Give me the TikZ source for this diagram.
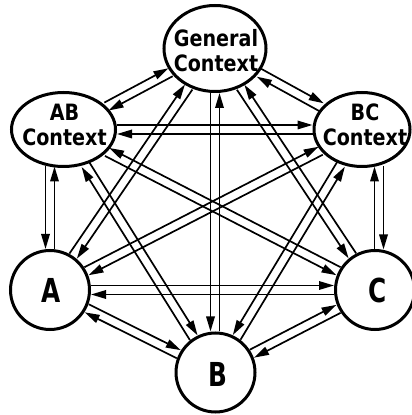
\documentclass[tikz,border=0pt]{standalone}
\usepackage{fontspec}
\usetikzlibrary{arrows.meta,calc,shapes.geometric}
\newfontfamily\ctxfont{DejaVu Sans}[FakeStretch=0.85]
\newfontfamily\letterfont{DejaVu Sans}[FakeStretch=0.75]

% gap between the two arrows of a pair is 2*\gap
\newcommand\gap{4.5pt}
% two opposite arrows between end points #1 and #2, offset by angles #3/#4
\newcommand\twoway[4]{%
  \path (#1) -- (#2) coordinate[pos=0] (p) coordinate[pos=1] (q);
  \draw[link] ($(p)!\gap!#3:(q)$) -- ($(q)!\gap!#4:(p)$);
  \draw[link] ($(q)!\gap!#3:(p)$) -- ($(p)!\gap!#4:(q)$);
}
\newcommand\pairL[2]{\twoway{#1}{#2}{90}{-90}}
\newcommand\pairR[2]{\twoway{#1}{#2}{-90}{90}}

\begin{document}
\begin{tikzpicture}[x=1pt,y=1pt,
  ctx/.style={draw, ellipse, line width=3pt, inner sep=0pt},
  circ/.style={draw, circle, line width=3pt, inner sep=0pt, minimum size=79pt},
  ctxlbl/.style={inner sep=0pt, align=center,
    font=\ctxfont\bfseries\fontsize{22.5}{25}\selectfont},
  letterlbl/.style={inner sep=0pt,
    font=\letterfont\bfseries\fontsize{33}{36}\selectfont},
  link/.style={line width=1.7pt, -{Triangle[length=15pt,width=8.5pt]}}]
\useasboundingbox (0,0) rectangle (412,415);
\fill[white] (0,0) rectangle (412,415);

% context ellipses
\node[ctx, minimum width=102pt, minimum height=86pt] (G)  at (215,366.5) {};
\node[ctx, minimum width=104pt, minimum height=74pt] (AB) at (63.5,285.5) {};
\node[ctx, minimum width=96pt,  minimum height=74pt] (BC) at (362,285.5) {};
% base circles
\node[circ] (A) at (50,125) {};
\node[circ] (C) at (375,125) {};
\node[circ] (B) at (215.5,42.5) {};

% labels
\node[ctxlbl] (Gl)  at (216,364) {General\\Context};
\node[ctxlbl] (ABl) at (64.5,290) {AB\\Context};
\node[ctxlbl] (BCl) at (365,290) {BC\\Context};
\node[letterlbl] (Al) at (51,124.5) {A};
\node[letterlbl] (Cl) at (378,124.5) {C};
\node[letterlbl] (Bl) at (217.5,40.5) {B};

% ends of the three vertical pairs
\coordinate (cx) at (379,0);
\coordinate (ab0) at (A.north);
\coordinate (ab1) at ($(A |- AB.south)+(0,1.5)$);
\coordinate (bc0) at ($(cx |- C.north)+(0,-0.5)$);
\coordinate (bc1) at ($(cx |- BC.south)+(0,1.5)$);
\coordinate (gb0) at (G.south);
\coordinate (gb1) at (G |- B.north);

% connectors: every pair of nodes, one arrow each way
\pairL{A}{C}
\pairL{AB}{BC}
\pairL{A}{B}
\pairL{B}{C}
\pairR{ab0}{ab1}
\pairL{bc0}{bc1}
\pairR{gb0}{gb1}
\pairL{AB}{G}
\pairL{BC}{G}
\pairL{A}{G}
\pairR{C}{G}
\pairL{AB}{B}
\pairR{BC}{B}
\pairR{AB}{C}
\pairL{BC}{A}
\end{tikzpicture}
\end{document}
